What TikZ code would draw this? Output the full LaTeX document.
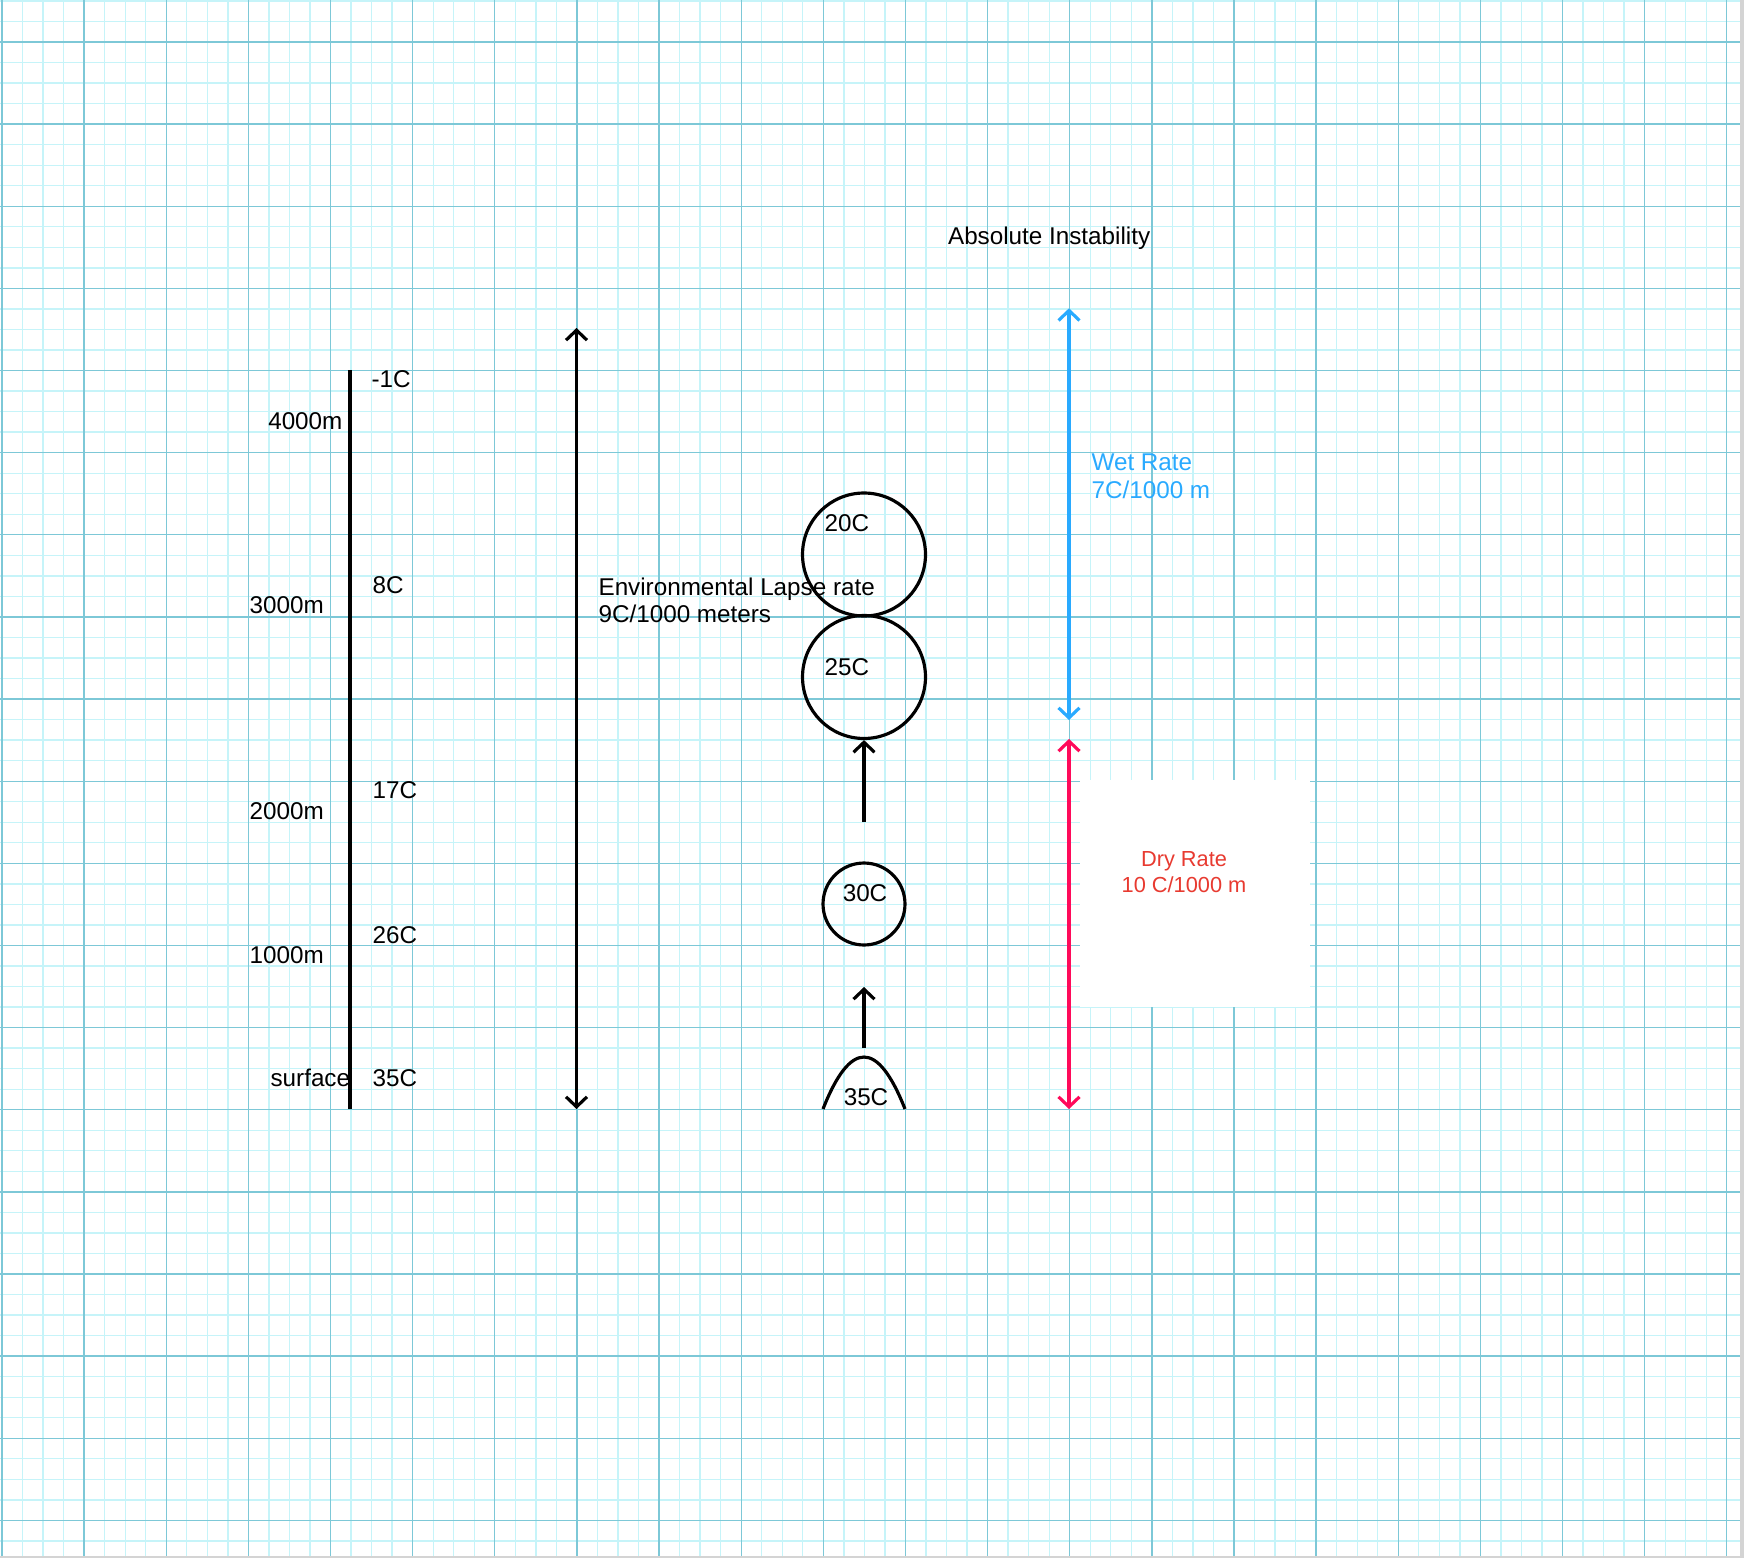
\documentclass[tikz,border=0pt]{standalone}
\usepackage{fontspec}
\setmainfont{Liberation Sans}
\usetikzlibrary{arrows.meta}

\begin{document}
\begin{tikzpicture}[
x=0.02cm, y=-0.02cm,
line width=1.8pt,
every node/.style={font=\fontsize{13.8}{15.6}\selectfont, inner sep=0pt},
lbl/.style={anchor=base west},
bubble/.style={circle, draw=black, line width=1.8pt, minimum size=2.46cm},
minorgrid/.style={draw=gridminor, line width=0.75pt},
majorgrid/.style={draw=gridmajor, line width=0.75pt},
twoway/.style={{Straight Barb[length=0.2cm, width=0.42cm]}-{Straight Barb[length=0.2cm, width=0.42cm]}},
uparrow/.style={-{Straight Barb[length=0.2cm, width=0.42cm]}}
]
\definecolor{gridminor}{RGB}{198,244,249}
\definecolor{gridmajor}{RGB}{125,200,215}
\definecolor{wetblue}{RGB}{41,170,255}
\definecolor{dryred}{RGB}{255,10,90}
\definecolor{drytext}{RGB}{232,58,48}
\definecolor{edgegray}{RGB}{212,212,212}

\useasboundingbox (0,0) rectangle (1744,1558);
\fill[edgegray] (0,0) rectangle (1744,1558);
\fill[white] (0,0) rectangle (1740,1556);

% graph paper
\foreach \k in {0,...,84}{
\draw[minorgrid] ({2+20.533*\k},0) -- ({2+20.533*\k},1556);
}
\foreach \k in {0,...,75}{
\draw[minorgrid] (0,{0.93+20.533*\k}) -- (1740,{0.93+20.533*\k});
}
\foreach \k in {0,...,21}{
\draw[majorgrid] ({2+82.133*\k},0) -- ({2+82.133*\k},1556);
}
\foreach \k in {0,...,18}{
\draw[majorgrid] (0,{42+82.133*\k}) -- (1740,{42+82.133*\k});
}
\fill[white] (1080,780) rectangle (1310,1007);

% height scale
\coordinate (axtop) at (350,370);
\coordinate (axbot) at (350,1109);
\draw (axtop) -- (axbot);
\node[anchor=base east] (h4000) at (344,429) {4000m};
\node[lbl] (h3000) at (248,613.7) {3000m};
\node[lbl] (h2000) at (248,819.5) {2000m};
\node[lbl] (h1000) at (248,963) {1000m};
\node[lbl] (hsurf) at (269,1086.4) {surface};
\node[lbl] (tm1) at (370,387.5) {-1C};
\node[lbl] (t8) at (371,593.7) {8C};
\node[lbl] (t17) at (371,798.4) {17C};
\node[lbl] (t26) at (371,943) {26C};
\node[lbl] (t35) at (371,1086.4) {35C};

% environmental lapse rate
\coordinate (envtop) at (576.5,328);
\coordinate (envbot) at (576.5,1109);
\draw[twoway] (envbot) -- (envtop);
\node[anchor=north west, align=left] (envtxt) at (597,576.3) {Environmental Lapse rate\\9C/1000 meters};

\node[lbl] (title) at (946.5,244.5) {Absolute Instability};

% rising parcel
\node[bubble] (c20) at (864,554.5) {};
\node[bubble] (c25) at (864,677) {};
\node[bubble, minimum size=1.64cm] (c30) at (864,904) {};
\node[lbl] (l20) at (823,531.7) {20C};
\node[lbl] (l25) at (823,675) {25C};
\node[anchor=base] (l30) at (865,901.8) {30C};
\coordinate (r1) at (864,822);
\draw[uparrow] (r1) -- (c25.south);
\coordinate (r2a) at (864,1048);
\coordinate (r2b) at (864,987);
\draw[uparrow] (r2a) -- (r2b);
\draw (823,1109) .. controls (850.3,1039.7) and (877.7,1039.7) .. (905,1109);
\node[anchor=base] (l35) at (866,1105) {35C};

% wet and dry rates
\coordinate (wettop) at (1069,308.3);
\coordinate (wetbot) at (1069,720);
\draw[twoway, draw=wetblue] (wetbot) -- (wettop);
\node[anchor=north west, align=left, text=wetblue] (wettxt) at (1090,452.6) {Wet Rate\\7C/1000 m};
\coordinate (drytop) at (1069,739);
\coordinate (drybot) at (1069,1109);
\draw[twoway, draw=dryred] (drybot) -- (drytop);
\node[anchor=north, align=center, text=drytext, font=\fontsize{12.4}{14.8}\selectfont] (drytxt) at (1184,850.4) {Dry Rate\\10 C/1000 m};
\end{tikzpicture}
\end{document}
